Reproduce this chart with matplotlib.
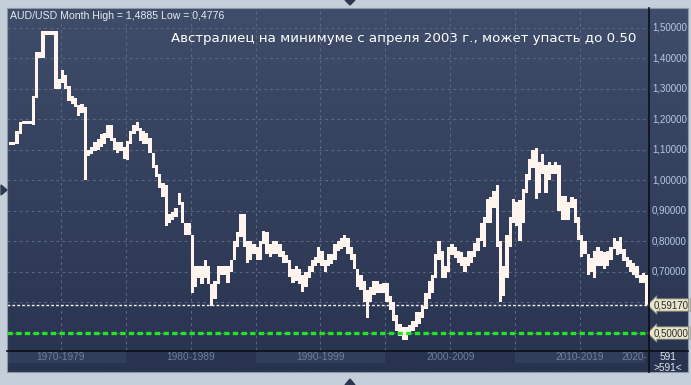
import numpy as np
import matplotlib
matplotlib.use("Agg")
import matplotlib.pyplot as plt
from matplotlib.colors import LinearSegmentedColormap
from matplotlib.lines import Line2D
from matplotlib.patches import Polygon, Rectangle

# quarterly high / low of AUD/USD
quarters = np.arange(1971, 2020.25, 0.25)

lows = [
    1.115, 1.115, 1.118, 1.150,  # 1971
    1.185, 1.185, 1.185, 1.180,  # 1972
    1.270, 1.400, 1.400, 1.475,  # 1973
    1.475, 1.475, 1.300, 1.300,  # 1974
    1.320, 1.300, 1.260, 1.250,  # 1975
    1.240, 1.210, 1.220, 1.000,  # 1976
    1.080, 1.085, 1.095, 1.100,  # 1977
    1.110, 1.120, 1.140, 1.130,  # 1978
    1.100, 1.090, 1.095, 1.070,  # 1979
    1.065, 1.120, 1.150, 1.160,  # 1980
    1.130, 1.120, 1.120, 1.090,  # 1981
    1.040, 1.010, 0.975, 0.945,  # 1982
    0.850, 0.860, 0.870, 0.880,  # 1983
    0.920, 0.860, 0.820, 0.820,  # 1984
    0.630, 0.650, 0.680, 0.660,  # 1985
    0.680, 0.660, 0.590, 0.610,  # 1986
    0.660, 0.690, 0.690, 0.665,  # 1987
    0.700, 0.740, 0.780, 0.815,  # 1988
    0.780, 0.730, 0.740, 0.760,  # 1989
    0.740, 0.740, 0.790, 0.760,  # 1990
    0.750, 0.760, 0.760, 0.750,  # 1991
    0.730, 0.730, 0.685, 0.665,  # 1992
    0.670, 0.660, 0.635, 0.650,  # 1993
    0.680, 0.700, 0.720, 0.730,  # 1994
    0.720, 0.700, 0.720, 0.725,  # 1995
    0.740, 0.770, 0.775, 0.780,  # 1996
    0.760, 0.740, 0.710, 0.650,  # 1997
    0.640, 0.600, 0.550, 0.600,  # 1998
    0.625, 0.630, 0.630, 0.630,  # 1999
    0.600, 0.575, 0.540, 0.505,  # 2000
    0.490, 0.478, 0.478, 0.500,  # 2001
    0.505, 0.520, 0.530, 0.550,  # 2002
    0.580, 0.610, 0.630, 0.680,  # 2003
    0.740, 0.680, 0.680, 0.700,  # 2004
    0.755, 0.745, 0.730, 0.720,  # 2005
    0.700, 0.720, 0.730, 0.750,  # 2006
    0.770, 0.800, 0.780, 0.860,  # 2007
    0.860, 0.910, 0.780, 0.600,  # 2008
    0.620, 0.680, 0.780, 0.860,  # 2009
    0.850, 0.800, 0.860, 0.960,  # 2010
    1.000, 1.040, 0.940, 0.960,  # 2011
    1.020, 0.960, 1.000, 1.020,  # 2012
    1.020, 0.900, 0.870, 0.870,  # 2013
    0.870, 0.910, 0.860, 0.805,  # 2014
    0.750, 0.760, 0.690, 0.700,  # 2015
    0.680, 0.720, 0.720, 0.710,  # 2016
    0.720, 0.740, 0.775, 0.755,  # 2017
    0.760, 0.735, 0.715, 0.700,  # 2018
    0.690, 0.680, 0.665, 0.665,  # 2019
    0.5917,                      # 2020
]

highs = [
    1.125, 1.125, 1.160, 1.190,  # 1971
    1.195, 1.195, 1.195, 1.275,  # 1972
    1.420, 1.420, 1.490, 1.490,  # 1973
    1.490, 1.490, 1.490, 1.330,  # 1974
    1.360, 1.345, 1.310, 1.275,  # 1975
    1.270, 1.245, 1.250, 1.240,  # 1976
    1.100, 1.110, 1.125, 1.135,  # 1977
    1.150, 1.155, 1.180, 1.180,  # 1978
    1.140, 1.125, 1.125, 1.110,  # 1979
    1.130, 1.160, 1.180, 1.190,  # 1980
    1.170, 1.160, 1.155, 1.140,  # 1981
    1.090, 1.050, 1.020, 0.990,  # 1982
    0.985, 0.890, 0.895, 0.910,  # 1983
    0.960, 0.930, 0.860, 0.860,  # 1984
    0.820, 0.720, 0.720, 0.720,  # 1985
    0.740, 0.720, 0.660, 0.670,  # 1986
    0.720, 0.720, 0.720, 0.720,  # 1987
    0.740, 0.800, 0.830, 0.890,  # 1988
    0.890, 0.800, 0.800, 0.790,  # 1989
    0.780, 0.800, 0.835, 0.830,  # 1990
    0.790, 0.800, 0.800, 0.790,  # 1991
    0.770, 0.755, 0.740, 0.710,  # 1992
    0.720, 0.710, 0.690, 0.700,  # 1993
    0.720, 0.740, 0.750, 0.780,  # 1994
    0.770, 0.740, 0.760, 0.760,  # 1995
    0.790, 0.800, 0.810, 0.820,  # 1996
    0.810, 0.780, 0.760, 0.710,  # 1997
    0.690, 0.670, 0.640, 0.650,  # 1998
    0.670, 0.670, 0.660, 0.665,  # 1999
    0.665, 0.620, 0.600, 0.560,  # 2000
    0.530, 0.520, 0.520, 0.525,  # 2001
    0.540, 0.570, 0.570, 0.590,  # 2002
    0.630, 0.670, 0.690, 0.760,  # 2003
    0.800, 0.770, 0.720, 0.780,  # 2004
    0.790, 0.780, 0.770, 0.765,  # 2005
    0.750, 0.770, 0.770, 0.795,  # 2006
    0.810, 0.860, 0.880, 0.940,  # 2007
    0.945, 0.965, 0.985, 0.800,  # 2008
    0.720, 0.820, 0.880, 0.940,  # 2009
    0.930, 0.935, 0.970, 1.020,  # 2010
    1.070, 1.100, 1.105, 1.060,  # 2011
    1.085, 1.050, 1.060, 1.050,  # 2012
    1.060, 1.050, 0.950, 0.950,  # 2013
    0.930, 0.945, 0.940, 0.880,  # 2014
    0.820, 0.800, 0.760, 0.745,  # 2015
    0.770, 0.780, 0.770, 0.765,  # 2016
    0.770, 0.780, 0.810, 0.800,  # 2017
    0.815, 0.775, 0.750, 0.740,  # 2018
    0.730, 0.720, 0.690, 0.695,  # 2019
    0.690,                       # 2020
]

price_ticks = [1.5, 1.4, 1.3, 1.2, 1.1, 1.0, 0.9, 0.8, 0.7]
last_price = 0.5917
target = 0.50
decades = ["1970-1979", "1980-1989", "1990-1999", "2000-2009", "2010-2019"]
decade_mid = [1975, 1985, 1995, 2005, 2015]

lows = np.array(lows)
highs = np.array(highs)

W, H = 691, 385
fig = plt.figure(figsize=(W / 100, H / 100), dpi=100, facecolor="#c5cfda")

def box(x0, y0, x1, y1):
    # pixel box (top-left origin) -> figure rect
    return [x0 / W, (H - y1) / H, (x1 - x0) / W, (y1 - y0) / H]

xlim = (1970.85, 2020.23)
ylim = (0.4444, 1.564)

# dark gradient background
bg = fig.add_axes(box(7, 8, 688, 372))
cmap = LinearSegmentedColormap.from_list("bg", ["#3f4d6a", "#28334f"])
bg.imshow(np.linspace(0, 1, 256).reshape(-1, 1), cmap=cmap, aspect="auto",
          extent=(0, 1, 0, 1))
bg.set_axis_off()

# main price panel
ax = fig.add_axes(box(7, 8, 648, 350))
ax.patch.set_alpha(0)
ax.set_xlim(*xlim)
ax.set_ylim(*ylim)
ax.set_yticks(np.arange(0.5, 1.51, 0.1))
ax.set_xticks(np.arange(1975, 2016, 5))
ax.grid(True, color="#5a6782", ls=(0, (2.5, 3)), lw=0.8)
ax.tick_params(length=0, labelleft=False, labelbottom=False)
for s in ax.spines.values():
    s.set_visible(False)

ax.bar(quarters, highs - lows, bottom=lows, width=0.25, align="edge",
       color="#fff4ee", linewidth=0, zorder=3)

ax.axhline(last_price, color="#f2f2f2", lw=1.0, ls=(0, (2, 1.5)), zorder=4)
ax.axhline(target, color="#22e622", lw=2.4, ls=(0, (1.6, 1.0)), zorder=4)

ax.text(0.005, 0.978, "AUD/USD Month High = 1,4885 Low = 0,4776",
        transform=ax.transAxes, ha="left", va="center", fontsize=7.6,
        family="Liberation Sans", color="#e6eaf2")
ax.text(0.982, 0.912, "Австралиец на минимуме с апреля 2003 г., может упасть до 0.50",
        transform=ax.transAxes, ha="right", va="center", fontsize=9.6,
        family="DejaVu Sans", color="white")

# right price scale
ar = fig.add_axes(box(649, 8, 688, 350))
ar.patch.set_alpha(0)
ar.set_ylim(*ylim)
ar.set_xlim(0, 1)
ar.set_axis_off()
for p in price_ticks:
    ar.text(0.08, p, f"{p:.5f}".replace(".", ","), ha="left", va="center",
            fontsize=7, family="Liberation Sans", color="#b7c8e4")
for p in (last_price, target):
    ar.text(0.13, p, f"{p:.5f}".replace(".", ","), ha="left", va="center",
            fontsize=7, family="Liberation Sans", color="#2a2a2a",
            bbox=dict(boxstyle="larrow,pad=0.12", fc="#e8e5cc", ec="#8d8b74", lw=0.6))

# bottom time scale
ab = fig.add_axes(box(7, 351, 648, 372))
ab.patch.set_alpha(0)
ab.set_xlim(*xlim)
ab.set_ylim(0, 1)
ab.set_axis_off()
for i, (lab, mid) in enumerate(zip(decades, decade_mid)):
    if i % 2 == 0:
        ab.axvspan(mid - 5, mid + 5, ymin=0.45, ymax=1, color="#303d5b", lw=0)
    ab.text(mid, 0.72, lab, ha="center", va="center", fontsize=7.3,
            family="Liberation Sans", color="#6f7f9c")
ab.text(2020.15, 0.72, "2020-", ha="right", va="center", fontsize=7.3,
        family="Liberation Sans", color="#6f7f9c", clip_on=True)

fig.text(668 / W, 1 - 357 / H, "591", ha="center", va="center", fontsize=7.3,
         family="Liberation Sans", color="#dfe6f0")
fig.text(668 / W, 1 - 368 / H, ">591<", ha="center", va="center", fontsize=7.3,
         family="Liberation Sans", color="#dfe6f0")

# separators and frame
fig.add_artist(Line2D([7 / W, 688 / W], [1 - 350.5 / H] * 2, color="#0d0f16", lw=1.2))
fig.add_artist(Line2D([648.5 / W] * 2, [1 - 8 / H, 1 - 372 / H], color="#0d0f16", lw=1.2))
fig.add_artist(Rectangle((7 / W, 1 - 372 / H), 681 / W, 364 / H, fill=False,
                         ec="#8c98a8", lw=0.8))

# small navigation triangles
tri = "#2c3751"
fig.add_artist(Polygon([[345 / W, 1.0], [355 / W, 1.0], [350 / W, 1 - 5 / H]],
                       closed=True, color=tri))
fig.add_artist(Polygon([[345 / W, 0.0], [355 / W, 0.0], [350 / W, 6 / H]],
                       closed=True, color=tri))
fig.add_artist(Polygon([[1 / W, 1 - 185 / H], [1 / W, 1 - 195 / H], [7 / W, 1 - 190 / H]],
                       closed=True, color=tri))

fig.savefig("out.png", dpi=100, facecolor=fig.get_facecolor())
